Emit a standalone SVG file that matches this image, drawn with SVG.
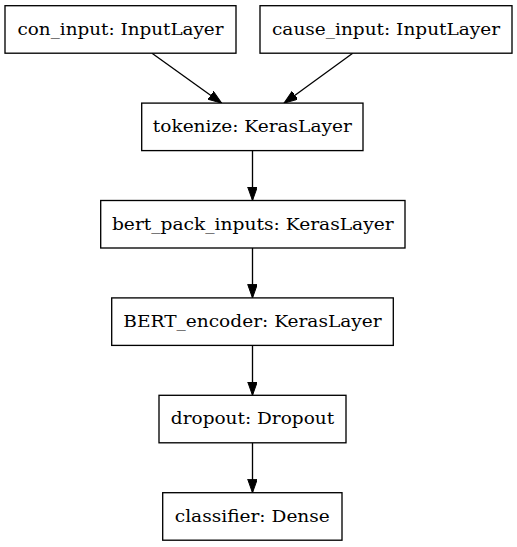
<svg xmlns="http://www.w3.org/2000/svg" width="517" height="547" viewBox="0 0 517 547">
<style>
.box{fill:#fff;stroke:#000;stroke-width:1.33}
.lbl{font-family:"DejaVu Serif","Liberation Serif",serif;font-size:16px;fill:#000;text-anchor:middle}
.edge{stroke:#000;stroke-width:1.33;fill:none}
</style>
<defs>
<marker id="arr" markerUnits="userSpaceOnUse" markerWidth="14" markerHeight="10" refX="13.5" refY="4.8" orient="auto">
<path d="M0,0 L13.5,4.8 L0,9.6 z" fill="#000" stroke="#000" stroke-width="1"/>
</marker>
</defs>
<rect width="517" height="547" fill="#fff"/>
<g id="connectors">
<line class="edge" x1="152" y1="53.2" x2="221.7" y2="103.2" marker-end="url(#arr)"/>
<line class="edge" x1="352.7" y1="53.2" x2="284" y2="103.2" marker-end="url(#arr)"/>
<line class="edge" x1="252.5" y1="150.6" x2="252.5" y2="200.5" marker-end="url(#arr)"/>
<line class="edge" x1="252.5" y1="248" x2="252.5" y2="297.9" marker-end="url(#arr)"/>
<line class="edge" x1="252.5" y1="345.4" x2="252.5" y2="395.3" marker-end="url(#arr)"/>
<line class="edge" x1="252.5" y1="442.8" x2="252.5" y2="492.7" marker-end="url(#arr)"/>
</g>
<g id="con_input">
<rect class="box" x="5" y="5.7" width="231" height="47.5"/>
<text class="lbl" x="120.5" y="35" textLength="206" lengthAdjust="spacingAndGlyphs">con_input: InputLayer</text>
</g>
<g id="cause_input">
<rect class="box" x="260" y="5.7" width="252" height="47.5"/>
<text class="lbl" x="386" y="35" textLength="228" lengthAdjust="spacingAndGlyphs">cause_input: InputLayer</text>
</g>
<g id="tokenize">
<rect class="box" x="141.7" y="103.1" width="221.3" height="47.5"/>
<text class="lbl" x="252.3" y="132.2" textLength="199" lengthAdjust="spacingAndGlyphs">tokenize: KerasLayer</text>
</g>
<g id="bert_pack_inputs">
<rect class="box" x="100.7" y="200.5" width="304.3" height="47.5"/>
<text class="lbl" x="252.8" y="229.6" textLength="281.7" lengthAdjust="spacingAndGlyphs">bert_pack_inputs: KerasLayer</text>
</g>
<g id="BERT_encoder">
<rect class="box" x="111.7" y="297.9" width="281.6" height="47.5"/>
<text class="lbl" x="252.5" y="327" textLength="258.3" lengthAdjust="spacingAndGlyphs">BERT_encoder: KerasLayer</text>
</g>
<g id="dropout">
<rect class="box" x="159" y="395.3" width="187" height="47.5"/>
<text class="lbl" x="252.5" y="424.4" textLength="163.3" lengthAdjust="spacingAndGlyphs">dropout: Dropout</text>
</g>
<g id="classifier">
<rect class="box" x="162.7" y="492.7" width="179.3" height="47.5"/>
<text class="lbl" x="252.3" y="521.8" textLength="155" lengthAdjust="spacingAndGlyphs">classifier: Dense</text>
</g>
</svg>
